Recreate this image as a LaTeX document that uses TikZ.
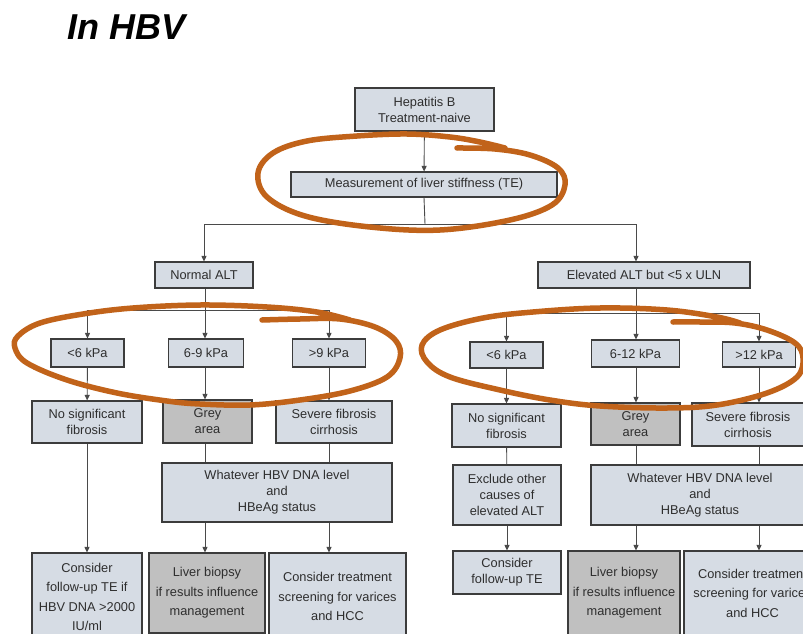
\documentclass[tikz,border=0pt]{standalone}
\usepackage{fontspec}
\setmainfont{Liberation Sans}
\usetikzlibrary{arrows.meta}
\definecolor{boxfill}{HTML}{D6DCE4}
\definecolor{greyfill}{HTML}{C0C0C0}
\definecolor{boxline}{HTML}{3C3C3C}
\definecolor{txt}{HTML}{2E2E2E}
\definecolor{connc}{HTML}{4A4A4A}
\definecolor{penc}{HTML}{C1631A}
\begin{document}
\begin{tikzpicture}[x=1pt,y=-1pt,
 box/.style={draw=boxline, line width=1.1pt, fill=boxfill, text=txt, align=center, inner sep=0pt, font=\fontsize{12.8}{16}\selectfont},
 greybox/.style={box, fill=greyfill},
 tall/.style={font=\fontsize{12.8}{19.5}\selectfont},
 conn/.style={draw=connc, line width=0.9pt},
 arr/.style={conn, -{Triangle[length=5.5pt,width=5pt]}},
 penstroke/.style={draw=penc, line width=5.5pt, line cap=round, line join=round}]
\useasboundingbox (0,0) rectangle (803,634);
\clip (0,0) rectangle (803,634);
\fill[white] (0,0) rectangle (803,634);

\node[anchor=base west, font=\fontsize{36}{40}\selectfont\bfseries\itshape] (title) at (64,40) {In HBV};

% top part
\node[box, minimum width=139pt, minimum height=43pt] (top) at (424.5,109.5) {Hepatitis B\\Treatment-naive};
\node[box, minimum width=266pt, minimum height=25pt] (meas) at (424,184.5) {Measurement of liver stiffness (TE)};
\coordinate (j0) at (425,224);
\node[box, minimum width=98pt, minimum height=26pt] (normal) at (204,275) {Normal ALT};
\node[box, minimum width=212pt, minimum height=26pt] (elev) at (644,275) {Elevated ALT but <5 x ULN};

\draw[arr] (top) -- (meas);
\draw[conn] (meas.south) -- (j0);
\draw[arr] (j0) -| (normal.north);
\draw[arr] (j0) -| ([xshift=-8pt]elev.north);

% left branch
\coordinate (jL) at (205,310);
\node[box, minimum width=73pt, minimum height=28pt] (l1) at (87.5,353) {<6 kPa};
\node[box, minimum width=75pt, minimum height=28pt] (l2) at (206,353) {6-9 kPa};
\node[box, minimum width=73pt, minimum height=28pt] (l3) at (329,353) {>9 kPa};
\node[box, minimum width=110pt, minimum height=42pt] (l4) at (87,422) {No significant\\fibrosis};
\node[greybox, minimum width=89pt, minimum height=43pt] (l5) at (207.5,421.5) {Grey\\area};
\node[box, minimum width=116pt, minimum height=42pt] (l6) at (334,422) {Severe fibrosis\\cirrhosis};
\node[box, minimum width=230pt, minimum height=59pt] (l7) at (277,492.5) {Whatever HBV DNA level\\and\\HBeAg status};
\node[box, tall, minimum width=110pt, minimum height=88pt] (l8) at (87,597) {Consider\\follow-up TE if\\HBV DNA >2000\\IU/ml};
\node[greybox, tall, minimum width=116pt, minimum height=80pt] (l9) at (207,593) {Liver biopsy\\if results influence\\management};
\node[box, tall, minimum width=137pt, minimum height=87pt] (l10) at (337.5,596.5) {Consider treatment\\screening for varices\\and HCC};

\draw[conn] (normal.south -| jL) -- (jL);
\draw[arr] (jL) -| (l1.north);
\draw[arr] (jL) -- (jL |- l2.north);
\draw[arr] (jL) -| (l3.north);
\draw[arr] (l1) -- (l4);
\draw[arr] (l2.south -| jL) -- (l5.north -| jL);
\draw[arr] (l3.south) -- (l3.south |- l6.north);
\draw[arr] (l4) -- (l8);
\draw[conn] (l5.south -| jL) -- (l7.north -| jL);
\draw[conn] (l3.south |- l6.south) -- (l3.south |- l7.north);
\draw[arr] (l7.south -| jL) -- (l9.north -| jL);
\draw[arr] (l3.south |- l7.south) -- (l3.south |- l10.north);

% right branch
\coordinate (jR) at (636,313);
\node[box, minimum width=73pt, minimum height=26pt] (r1) at (506.5,355) {<6 kPa};
\node[box, minimum width=88pt, minimum height=27pt] (r2) at (635.5,353.5) {6-12 kPa};
\node[box, minimum width=73pt, minimum height=25pt] (r3) at (759,354.5) {>12 kPa};
\node[box, minimum width=109pt, minimum height=43pt] (r4) at (506.5,425.5) {No significant\\fibrosis};
\node[greybox, minimum width=89pt, minimum height=42pt] (r5) at (635.5,424) {Grey\\area};
\node[box, minimum width=112pt, minimum height=43pt] (r6) at (748,424.5) {Severe fibrosis\\cirrhosis};
\node[box, minimum width=108pt, minimum height=60pt] (r7) at (507,495) {Exclude other\\causes of\\elevated ALT};
\node[box, minimum width=218pt, minimum height=60pt] (r8) at (700,495) {Whatever HBV DNA level\\and\\HBeAg status};
\node[box, minimum width=108pt, minimum height=43pt] (r9) at (507,572.5) {Consider\\follow-up TE};
\node[greybox, tall, minimum width=112pt, minimum height=84pt] (r10) at (624,593) {Liver biopsy\\if results influence\\management};
\node[box, tall, minimum width=137pt, minimum height=84pt] (r11) at (752.5,593) {Consider treatment\\screening for varices\\and HCC};

\draw[conn] (elev.south -| jR) -- (jR);
\draw[arr] (jR) -| (r1.north);
\draw[arr] (jR) -- (jR |- r2.north);
\draw[arr] (jR) -| (r3.north);
\draw[arr] (r1) -- (r4);
\draw[arr] (r2.south -| jR) -- (r5.north -| jR);
\draw[arr] (r3.south) -- (r3.south |- r6.north);
\draw[conn] (r4) -- (r7);
\draw[arr] (r7) -- (r9);
\draw[conn] (r5.south -| jR) -- (r8.north -| jR);
\draw[conn] (r3.south |- r6.south) -- (r3.south |- r8.north);
\draw[arr] (r8.south -| jR) -- (r10.north -| jR);
\draw[arr] (r3.south |- r8.south) -- (r3.south |- r11.north);

% hand-drawn orange loops
\draw[penstroke] plot[smooth, tension=0.6] coordinates {(457,148) (495,149) (530,155) (558,168) (565,185) (552,205) (510,220) (440,230) (370,227) (305,216) (267,197) (258,173) (273,153) (307,141) (357,136) (407,134) (450,137) (480,142) (505,148)};
\draw[penstroke] plot[smooth, tension=0.6] coordinates {(262,320) (300,319) (340,319) (375,327) (396,341) (400,358) (387,377) (350,391) (300,400) (250,405) (200,404) (167,401) (117,393) (67,380) (27,363) (15,348) (18,336) (40,323) (83,314) (133,308) (200,305) (267,307) (317,312) (350,320)};
\draw[penstroke] plot[smooth, tension=0.6] coordinates {(673,322) (700,322) (735,323) (767,330) (795,343) (803,358) (797,377) (767,393) (717,405) (667,408) (600,406) (550,400) (500,390) (450,377) (427,362) (422,345) (440,330) (483,318) (533,312) (600,308) (667,310) (717,317) (740,323)};
\end{tikzpicture}
\end{document}
